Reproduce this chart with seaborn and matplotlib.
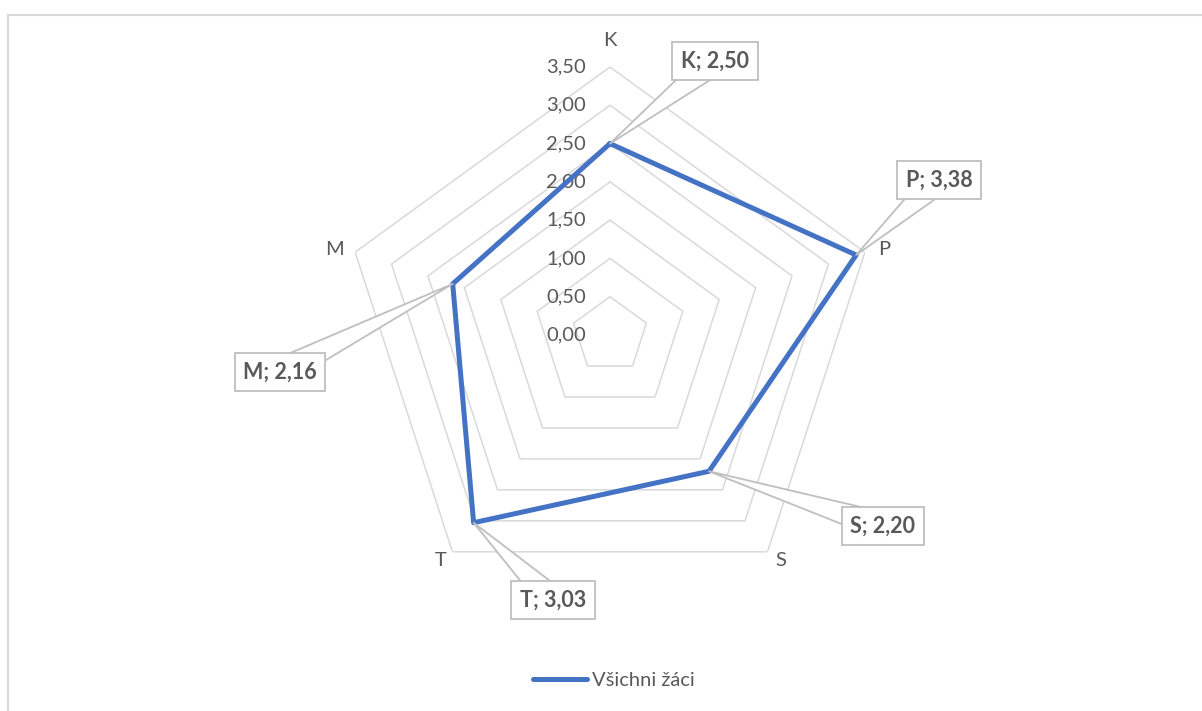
import numpy as np
import matplotlib
matplotlib.use("Agg")
import matplotlib.pyplot as plt
from matplotlib.patches import Rectangle
from matplotlib.lines import Line2D
import seaborn as sns
import pandas as pd

# ---- data ----
categories = ["K", "P", "S", "T", "M"]
values = [2.50, 3.38, 2.20, 3.03, 2.16]
ring_values = [0.5, 1.0, 1.5, 2.0, 2.5, 3.0, 3.5]
tick_values = [0.0, 0.5, 1.0, 1.5, 2.0, 2.5, 3.0, 3.5]
series_name = "Všichni žáci"

sns.set_theme(style="white")
plt.rcParams["font.family"] = ["Lato", "DejaVu Sans"]

W, H = 1202, 711
fig = plt.figure(figsize=(W / 100, H / 100), dpi=100)
fig.patch.set_facecolor("white")

cx, cy, R = 610, 335, 268
ax = fig.add_axes([(cx - R) / W, (H - cy - R) / H, 2 * R / W, 2 * R / H],
                  projection="polar")
ax.set_theta_offset(np.pi / 2)
ax.set_theta_direction(-1)
ax.set_ylim(0, 3.5)
ax.grid(False)
ax.spines["polar"].set_visible(False)
ax.patch.set_alpha(0)

n = len(categories)
angles = [2 * np.pi * i / n for i in range(n)]
ang_closed = angles + [angles[0]]

grid_col = "#D9D9D9"
text_col = "#595959"
blue = "#4472C4"
FS = 14.5
FS_LBL = 15.5

# rings
for rv in ring_values:
    ax.plot(ang_closed, [rv] * (n + 1), color=grid_col, lw=1.1, zorder=1)

# data line via seaborn
df = pd.DataFrame({"theta": ang_closed, "value": values + [values[0]]})
sns.lineplot(data=df, x="theta", y="value", sort=False, estimator=None,
             color=blue, lw=3.6, ax=ax, zorder=3, legend=False)
ax.set_xlabel("")
ax.set_ylabel("")
ax.set_ylim(0, 3.5)
ax.set_xticks([])
ax.set_yticks([])

# radial tick labels
for tv in tick_values:
    ax.annotate(f"{tv:.2f}".replace(".", ","), xy=(0, tv), xytext=(-24, 0),
                textcoords="offset pixels", ha="right", va="center",
                fontsize=FS, color=text_col, zorder=2)

# category labels
cat_offsets = [(0, 27), (19, 3), (13, -9), (-12, -9), (-21, 3)]
for a, c, off in zip(angles, categories, cat_offsets):
    ax.annotate(c, xy=(a, 3.5), xytext=off, textcoords="offset pixels",
                ha="center", va="center", fontsize=FS, color=text_col)

# data callouts
box_centers = [(715, 61), (939, 180), (883, 526), (553, 600), (280, 372)]
for a, c, v, (bx, by) in zip(angles, categories, values, box_centers):
    ax.annotate(f"{c}; {v:.2f}".replace(".", ","), xy=(a, v),
                xytext=(bx, H - by), textcoords="figure pixels",
                ha="center", va="center", fontsize=FS_LBL, fontweight="bold",
                color=text_col, zorder=5,
                bbox=dict(boxstyle="square,pad=0.4", fc="white",
                          ec="#BFBFBF", lw=1.3),
                arrowprops=dict(arrowstyle="wedge,tail_width=1.25,shrink_factor=0.5",
                                fc="white", ec="#BFBFBF", lw=1.3,
                                patchA=None, shrinkA=0, shrinkB=0))

# legend
handle = Line2D([0], [0], color=blue, lw=3.6, solid_capstyle="round")
fig.legend([handle], [series_name], loc="center",
           bbox_to_anchor=(614 / W, 1 - 680 / H), frameon=False,
           fontsize=FS, handlelength=2.7, handletextpad=0.25,
           labelcolor=text_col)

# chart area border
fig.add_artist(Rectangle((7.5 / W, -0.1), 1.2, (H - 14.5) / H + 0.1,
                         transform=fig.transFigure, fill=False,
                         ec=grid_col, lw=1.5))

fig.savefig("out.png", dpi=100, facecolor="white")
